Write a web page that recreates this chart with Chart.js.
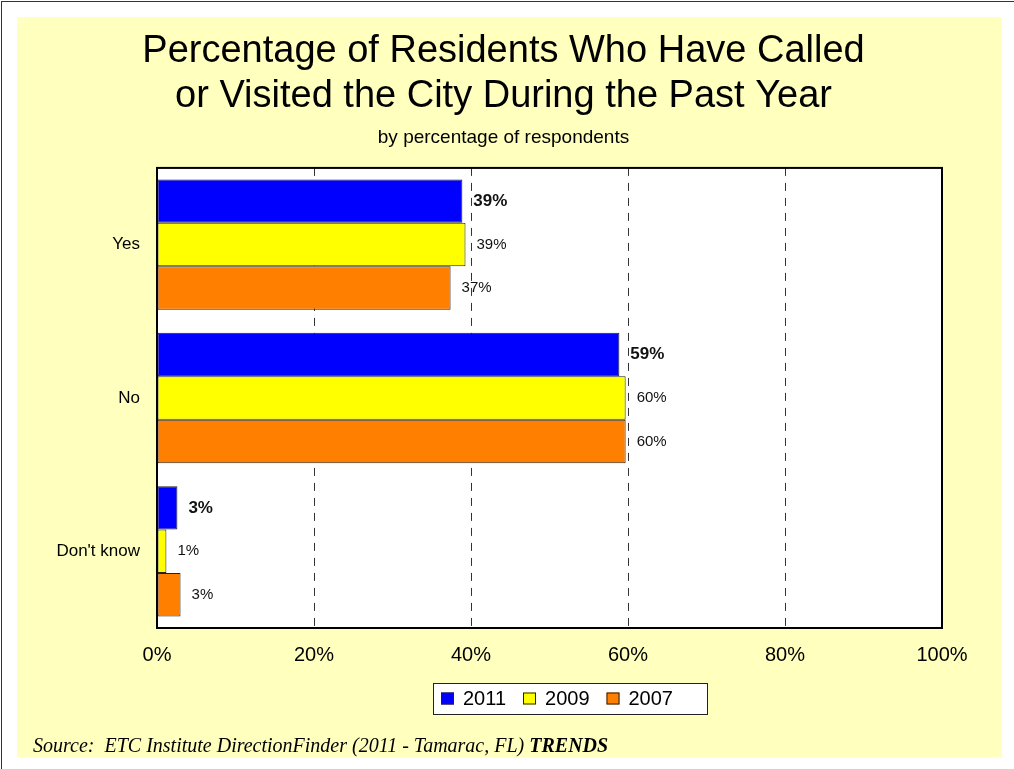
<!DOCTYPE html>
<html>
<head>
<meta charset="utf-8">
<title>Percentage of Residents Who Have Called or Visited the City</title>
<script src="https://cdn.jsdelivr.net/npm/chart.js@4.4.0/dist/chart.umd.min.js"></script>
<style>
  html, body { margin: 0; padding: 0; background: #fff; }
  canvas { display: block; }
</style>
</head>
<body>
<canvas id="callsChart" width="1014" height="769"></canvas>
<script>
// Survey answers (rows) and survey years (series)
const categories = ['Yes', 'No', "Don't know"];
const years = ['2011', '2009', '2007'];
const values2011 = [38.9, 58.9, 2.6];
const values2009 = [39.3, 59.7, 1.2];
const values2007 = [37.4, 59.7, 3.0];
const xTicks = [0, 20, 40, 60, 80, 100];
const barColors = ['#0000ff', '#ffff00', '#ff8000'];

const FONT = "'Liberation Sans', Arial, sans-serif";
const SERIF = "'Liberation Serif', 'Times New Roman', serif";
const PANEL = '#ffffbe';

// page background, yellow panel and white plot area
const backgroundPlugin = {
    id: 'background',
    beforeDraw(chart) {
        const { ctx, chartArea: a, width, height } = chart;
        ctx.save();
        ctx.fillStyle = '#fff';
        ctx.fillRect(0, 0, width, height);
        ctx.strokeStyle = '#333';
        ctx.lineWidth = 1;
        ctx.strokeRect(1.5, 1.5, width, height);
        ctx.fillStyle = PANEL;
        ctx.fillRect(17, 17, 985, 740);
        ctx.fillStyle = '#fff';
        ctx.fillRect(a.left, a.top, a.right - a.left, a.bottom - a.top);
        ctx.restore();
    }
};

// percentage next to each bar, 2011 in bold
const valueLabels = {
    id: 'valueLabels',
    afterDatasetsDraw(chart) {
        const ctx = chart.ctx;
        ctx.save();
        ctx.fillStyle = '#111';
        ctx.textBaseline = 'middle';
        ctx.textAlign = 'left';
        chart.data.datasets.forEach((ds, i) => {
            ctx.font = i === 0 ? `bold 17px ${FONT}` : `15px ${FONT}`;
            chart.getDatasetMeta(i).data.forEach((bar, j) => {
                ctx.fillText(Math.round(ds.data[j]) + '%', bar.x + 11, bar.y);
            });
        });
        ctx.restore();
    }
};

// plot frame, boxed legend and source line
const framePlugin = {
    id: 'frame',
    afterDraw(chart) {
        const { ctx, chartArea: a } = chart;
        ctx.save();
        ctx.strokeStyle = '#000';
        ctx.lineWidth = 2;
        ctx.strokeRect(a.left, a.top, a.right - a.left, a.bottom - a.top);

        // legend box
        const boxLeft = 433, boxTop = 683, boxW = 274, boxH = 31;
        ctx.fillStyle = '#fff';
        ctx.fillRect(boxLeft, boxTop, boxW, boxH);
        ctx.lineWidth = 1;
        ctx.strokeStyle = '#222';
        ctx.strokeRect(boxLeft + 0.5, boxTop + 0.5, boxW, boxH);

        ctx.font = `20px ${FONT}`;
        ctx.textBaseline = 'middle';
        let x = boxLeft + 8;
        const midY = boxTop + boxH / 2;
        chart.data.datasets.forEach((ds) => {
            ctx.fillStyle = ds.backgroundColor;
            ctx.fillRect(x, midY - 6, 13, 12);
            ctx.strokeStyle = '#222';
            ctx.strokeRect(x + 0.5, midY - 5.5, 12, 11);
            ctx.fillStyle = '#000';
            ctx.fillText(ds.label, x + 22, midY + 1);
            x += 22 + ctx.measureText(ds.label).width + 17;
        });

        // source
        ctx.fillStyle = '#000';
        ctx.textBaseline = 'alphabetic';
        ctx.font = `italic 20px ${SERIF}`;
        const src = 'Source:  ETC Institute DirectionFinder (2011 - Tamarac, FL) ';
        ctx.fillText(src, 33, 752);
        const w = ctx.measureText(src).width;
        ctx.font = `italic bold 20px ${SERIF}`;
        ctx.fillText('TRENDS', 33 + w, 752);
        ctx.restore();
    }
};

const seriesValues = [values2011, values2009, values2007];

new Chart(document.getElementById('callsChart'), {
    type: 'bar',
    data: {
        labels: categories,
        datasets: seriesValues.map((vals, i) => ({
            label: years[i],
            data: vals,
            backgroundColor: barColors[i],
            borderColor: '#222',
            borderWidth: 1,
            borderSkipped: false,
            barPercentage: 1,
            categoryPercentage: 0.85
        }))
    },
    options: {
        indexAxis: 'y',
        responsive: false,
        animation: false,
        devicePixelRatio: 1,
        layout: { padding: { left: 17, right: 24, top: 17, bottom: 97 } },
        plugins: {
            legend: { display: false },
            tooltip: { enabled: false },
            title: {
                display: true,
                text: ['Percentage of Residents Who Have Called', 'or Visited the City During the Past Year'],
                color: '#000',
                font: { family: FONT, size: 38, weight: 'normal', lineHeight: 1.17 },
                padding: { top: 12.5, bottom: 0 }
            },
            subtitle: {
                display: true,
                text: 'by percentage of respondents',
                color: '#000',
                font: { family: FONT, size: 19, lineHeight: 1.2 },
                padding: { top: 7.6, bottom: 19.1 }
            }
        },
        scales: {
            x: {
                min: 0,
                max: 100,
                afterBuildTicks: (s) => { s.ticks = xTicks.map(v => ({ value: v })); },
                afterFit: (s) => { s.height = 44; },
                ticks: {
                    callback: (v) => v + '%',
                    color: '#000',
                    padding: 15,
                    font: { family: FONT, size: 20 }
                },
                grid: { color: '#333', lineWidth: 1, drawTicks: false },
                border: { display: false, dash: [8, 7] }
            },
            y: {
                afterFit: (s) => { s.width = 140; },
                ticks: {
                    color: '#000',
                    padding: 17,
                    font: { family: FONT, size: 17 }
                },
                grid: { display: false, drawTicks: false },
                border: { display: false }
            },
            // empty right margin so the titles centre on the whole panel
            yRight: {
                type: 'category',
                axis: 'y',
                position: 'right',
                afterFit: (s) => { s.width = 48; },
                ticks: { display: false },
                grid: { display: false, drawTicks: false },
                border: { display: false }
            }
        }
    },
    plugins: [backgroundPlugin, valueLabels, framePlugin]
});
</script>
</body>
</html>
